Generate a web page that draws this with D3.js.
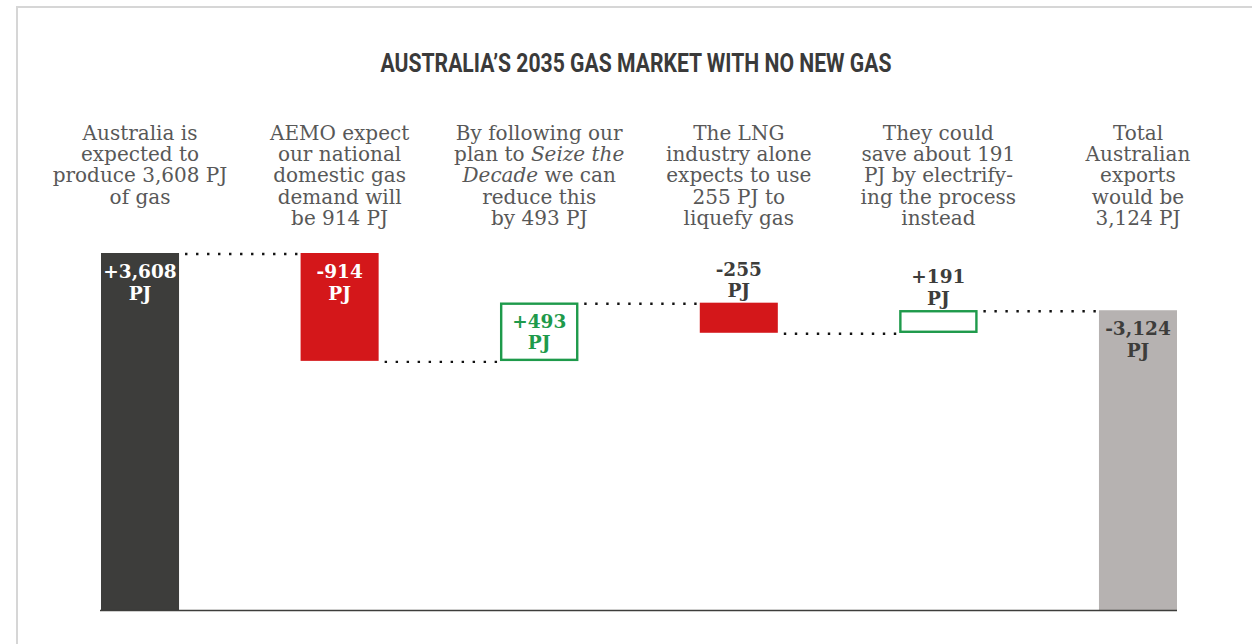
<!DOCTYPE html>
<html>
<head>
<meta charset="utf-8">
<script src="https://cdn.jsdelivr.net/npm/d3@7"></script>
<style>
  body { margin: 0; background: #fff; }
  svg { display: block; }
</style>
</head>
<body>
<div id="chart"></div>
<script>
// data
var categories = ["produce", "domestic", "plan", "lng", "electrify", "exports"];
var values = [3608, -914, 493, -255, 191, -3124];
var valueLabels = ["+3,608", "-914", "+493", "-255", "+191", "-3,124"];
var kinds = ["total", "decrease", "increase", "decrease", "increase", "total"];
// *...* marks italic
var notes = [
  ["Australia is", "expected to", "produce 3,608 PJ", "of gas"],
  ["AEMO expect", "our national", "domestic gas", "demand will", "be 914 PJ"],
  ["By following our", "plan to *Seize the*", "*Decade* we can", "reduce this", "by 493 PJ"],
  ["The LNG", "industry alone", "expects to use", "255 PJ to", "liquefy gas"],
  ["They could", "save about 191", "PJ by electrify-", "ing the process", "instead"],
  ["Total", "Australian", "exports", "would be", "3,124 PJ"]
];
var title = "AUSTRALIA\u2019S 2035 GAS MARKET WITH NO NEW GAS";

function drawWaterfall(targetID) {
  var width = 1252, height = 644;

  // running totals
  var data = [], level = 0;
  values.forEach(function(v, i) {
    var d = { key: categories[i], value: v, label: valueLabels[i], kind: kinds[i], note: notes[i] };
    if (d.kind == "total") {
      d.start = 0;
      d.end = i == 0 ? v : level;
    } else {
      d.start = level;
      d.end = level + v;
    }
    level = d.kind == "total" && i == 0 ? v : d.end;
    data.push(d);
  });

  var x = d3.scaleBand()
      .domain(categories)
      .range([101, 1177])
      .paddingInner(0.609)
      .paddingOuter(0);

  // axis is cut off near the bottom, like the original
  var y = d3.scaleLinear()
      .domain([583, 3608])
      .range([610, 253])
      .clamp(true);

  var fills = { total: "#3d3d3b", decrease: "#d4171a", increase: "#fff" };
  var green = "#1e9a4b";

  d3.select(targetID).selectAll("svg").remove();
  var svg = d3.select(targetID).append("svg")
      .attr("width", width)
      .attr("height", height);

  // frame
  svg.append("line").attr("x1", 16).attr("x2", width).attr("y1", 7).attr("y2", 7)
      .attr("stroke", "#d6d6d6").attr("stroke-width", 2);
  svg.append("line").attr("x1", 17).attr("x2", 17).attr("y1", 6).attr("y2", height)
      .attr("stroke", "#d6d6d6").attr("stroke-width", 2);

  svg.append("text")
      .attr("x", 636)
      .attr("y", 72)
      .attr("text-anchor", "middle")
      .attr("textLength", 511)
      .attr("lengthAdjust", "spacingAndGlyphs")
      .style("font-family", "Roboto, sans-serif")
      .style("font-weight", 700)
      .style("font-size", "25px")
      .style("fill", "#3a3a3a")
      .text(title);

  // notes above bars
  var noteG = svg.append("g").selectAll("text")
      .data(data)
    .enter().append("text")
      .attr("text-anchor", "middle")
      .style("font-family", "'DejaVu Serif', serif")
      .style("font-size", "20px")
      .style("fill", "#585858");

  noteG.each(function(d) {
    var t = d3.select(this);
    var cx = x(d.key) + x.bandwidth() / 2;
    d.note.forEach(function(line, j) {
      var parts = line.split("*");
      var first = true;
      parts.forEach(function(p, k) {
        if (p === "") return;
        var ts = t.append("tspan").text(p);
        if (first) { ts.attr("x", cx).attr("y", 140 + j * 21.2); first = false; }
        if (k % 2 == 1) ts.style("font-style", "italic");
      });
    });
  });

  // connectors
  svg.append("g").selectAll("line")
      .data(data.slice(0, -1))
    .enter().append("line")
      .attr("x1", function(d) { return x(d.key) + x.bandwidth() + 6; })
      .attr("x2", function(d, i) { return x(categories[i + 1]) - 3; })
      .attr("y1", function(d) { return y(d.end) + 1; })
      .attr("y2", function(d) { return y(d.end) + 1; })
      .attr("stroke", "#111")
      .attr("stroke-width", 2.4)
      .attr("stroke-dasharray", "2.4,8.6");

  // bars
  svg.append("g").selectAll("rect")
      .data(data)
    .enter().append("rect")
      .attr("x", function(d) { return x(d.key) + (d.kind == "increase" ? 1 : 0); })
      .attr("width", function(d) { return x.bandwidth() - (d.kind == "increase" ? 2 : 0); })
      .attr("y", function(d) { return y(Math.max(d.start, d.end)) + (d.kind == "increase" ? 1 : 0); })
      .attr("height", function(d) {
        return Math.abs(y(d.start) - y(d.end)) - (d.kind == "increase" ? 2 : 0);
      })
      .attr("fill", function(d, i) { return i == data.length - 1 ? "#b6b2b1" : fills[d.kind]; })
      .attr("stroke", function(d) { return d.kind == "increase" ? green : "none"; })
      .attr("stroke-width", 2.4);

  // baseline
  svg.append("line")
      .attr("x1", x.range()[0] - 1).attr("x2", x.range()[1])
      .attr("y1", y(0) + 0.5).attr("y2", y(0) + 0.5)
      .attr("stroke", "#3d3d3b").attr("stroke-width", 1.6);

  // value labels
  var labels = svg.append("g").selectAll("text")
      .data(data)
    .enter().append("text")
      .attr("text-anchor", "middle")
      .style("font-family", "'DejaVu Serif', serif")
      .style("font-weight", 700)
      .style("font-size", "18.5px")
      .style("fill", function(d, i) {
        var h = Math.abs(y(d.start) - y(d.end));
        if (h < 45) return "#3d3d3b";
        if (i == data.length - 1) return "#3d3d3b";
        if (d.kind == "increase") return green;
        return "#fff";
      });

  labels.each(function(d) {
    var t = d3.select(this);
    var cx = x(d.key) + x.bandwidth() / 2;
    var top = y(Math.max(d.start, d.end));
    var inside = Math.abs(y(d.start) - y(d.end)) >= 45;
    var y0 = inside ? top + 25 : top - 27;
    t.append("tspan").attr("x", cx).attr("y", y0).text(d.label);
    t.append("tspan").attr("x", cx).attr("y", y0 + 21.5).text("PJ");
  });
}

drawWaterfall("#chart");
</script>
</body>
</html>
